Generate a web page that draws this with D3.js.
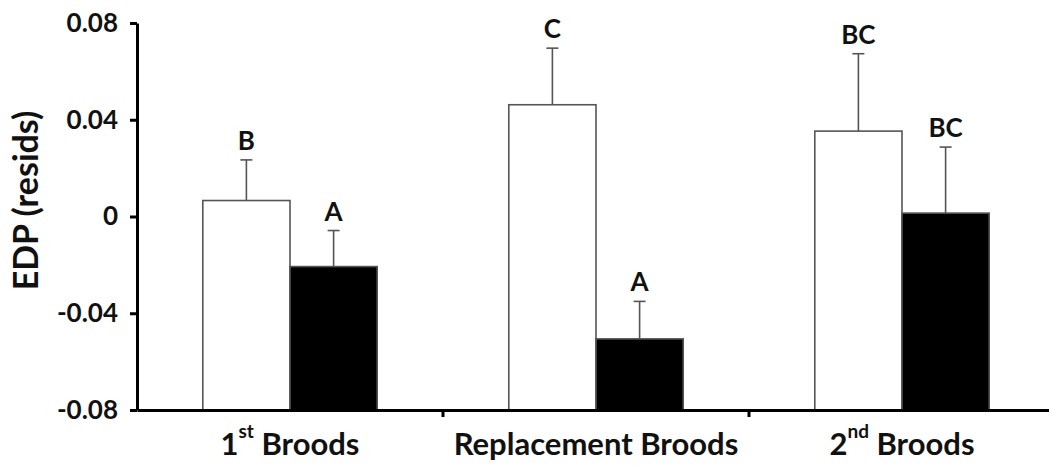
<!DOCTYPE html>
<html>
<head>
<meta charset="utf-8">
<script src="https://cdn.jsdelivr.net/npm/d3@7"></script>
<style>
  html, body { margin: 0; padding: 0; background: #fff; }
  svg { display: block; }
  text { font-family: Lato, "Open Sans", sans-serif; font-weight: bold; fill: #111; }
</style>
</head>
<body>
<svg id="chart" width="1049" height="472"></svg>
<script>
// ---- data ----
const categories = ["1st Broods", "Replacement Broods", "2nd Broods"];
const series = ["open", "filled"];
const openMeans = [0.0066, 0.0462, 0.0353];
const openErrors = [0.0168, 0.0234, 0.0320];
const openLetters = ["B", "C", "BC"];
const filledMeans = [-0.0207, -0.0506, 0.0014];
const filledErrors = [0.0149, 0.0155, 0.0273];
const filledLetters = ["A", "A", "BC"];
const yTicks = [0.08, 0.04, 0, -0.04, -0.08];
const yTickLabels = ["0.08", "0.04", "0", "-0.04", "-0.08"];
const yLabel = "EDP (resids)";

// ---- layout ----
const svg = d3.select("#chart");
const mLeft = 137, mRight = 1055, mTop = 23, mBottom = 410;

const y = d3.scaleLinear().domain([-0.08, 0.08]).range([mBottom, mTop]);
const x0 = d3.scaleBand().domain(categories).range([mLeft, mRight]).padding(0);
const bw = x0.bandwidth();
const x1 = d3.scaleBand().domain(series).range([bw * 0.215, bw * 0.785]).padding(0);

const rows = [];
categories.forEach((c, i) => {
  rows.push({cat: c, s: "open", v: openMeans[i], e: openErrors[i], l: openLetters[i]});
  rows.push({cat: c, s: "filled", v: filledMeans[i], e: filledErrors[i], l: filledLetters[i]});
});

// bars (drawn from the axis floor)
const g = svg.append("g");
g.selectAll("rect.bar").data(rows).join("rect")
  .attr("class", "bar")
  .attr("x", d => x0(d.cat) + x1(d.s))
  .attr("width", x1.bandwidth())
  .attr("y", d => y(d.v))
  .attr("height", d => y(-0.08) - y(d.v))
  .attr("fill", d => d.s === "open" ? "#fff" : "#000")
  .attr("stroke", "#555")
  .attr("stroke-width", 1.6);

// error bars (upper only)
const cx = d => x0(d.cat) + x1(d.s) + x1.bandwidth() / 2;
g.selectAll("line.err").data(rows).join("line")
  .attr("class", "err")
  .attr("x1", cx).attr("x2", cx)
  .attr("y1", d => y(d.v)).attr("y2", d => y(d.v + d.e))
  .attr("stroke", "#555").attr("stroke-width", 1.6);
g.selectAll("line.cap").data(rows).join("line")
  .attr("class", "cap")
  .attr("x1", d => cx(d) - 6).attr("x2", d => cx(d) + 6)
  .attr("y1", d => y(d.v + d.e)).attr("y2", d => y(d.v + d.e))
  .attr("stroke", "#555").attr("stroke-width", 1.6);

// significance letters
g.selectAll("text.letter").data(rows).join("text")
  .attr("class", "letter")
  .attr("x", cx)
  .attr("y", d => y(d.v + d.e) - 10)
  .attr("text-anchor", "middle")
  .style("font-size", "26px")
  .text(d => d.l);

// y axis
const yAxis = svg.append("g")
  .attr("transform", `translate(${mLeft},0)`)
  .call(d3.axisLeft(y).tickValues(yTicks).tickSize(7).tickSizeOuter(0)
    .tickPadding(12).tickFormat((d, i) => yTickLabels[i]));
yAxis.select(".domain").attr("stroke", "#000").attr("stroke-width", 3);
yAxis.selectAll(".tick line").attr("stroke", "#000").attr("stroke-width", 3);
yAxis.selectAll(".tick text").style("font-size", "26px")
  .style("font-family", "Lato, sans-serif").style("font-weight", "bold").attr("fill", "#111");

// x axis
const xAxis = svg.append("g")
  .attr("transform", `translate(0,${mBottom})`)
  .call(d3.axisBottom(x0).tickSize(0).tickSizeOuter(0).tickPadding(18).tickFormat(""));
xAxis.select(".domain").attr("stroke", "#000").attr("stroke-width", 3);
xAxis.selectAll(".bound").data(categories.slice(1)).join("line")
  .attr("class", "bound")
  .attr("x1", d => x0(d)).attr("x2", d => x0(d))
  .attr("y1", 0).attr("y2", 7)
  .attr("stroke", "#000").attr("stroke-width", 3);

const labels = svg.append("g").selectAll("text").data(categories).join("text")
  .attr("x", d => x0(d) + bw / 2)
  .attr("y", 455)
  .attr("text-anchor", "middle")
  .style("font-size", "31px");
labels.each(function(d) {
  const t = d3.select(this);
  const m = d.match(/^(\d+)(st|nd|rd|th) (.*)$/);
  if (m) {
    t.append("tspan").text(m[1]);
    t.append("tspan").attr("dy", -17).style("font-size", "19px").text(m[2]);
    t.append("tspan").attr("dy", 17).text(" " + m[3]);
  } else {
    t.text(d);
  }
});

// y label
svg.append("text")
  .attr("transform", `translate(38,${(mTop + mBottom) / 2 - 16}) rotate(-90)`)
  .attr("text-anchor", "middle")
  .style("font-size", "34px")
  .text(yLabel);
</script>
</body>
</html>
